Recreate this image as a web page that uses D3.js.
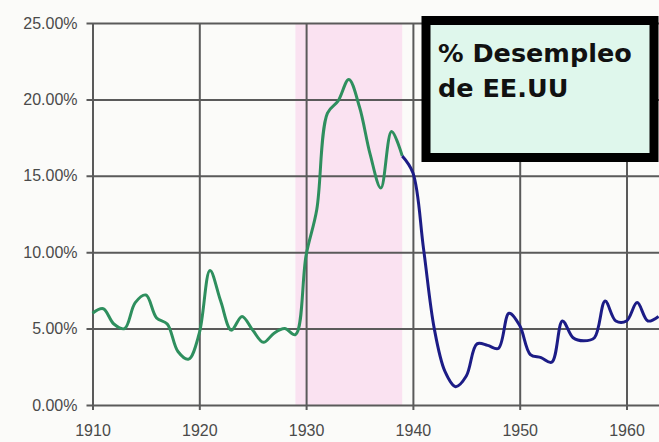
<!DOCTYPE html>
<html>
<head>
<meta charset="utf-8">
<script src="https://cdn.jsdelivr.net/npm/d3@7"></script>
<style>
  body { margin: 0; background: #fbfbf9; }
  svg { display: block; }
</style>
</head>
<body>
<div id="canvas"></div>
<script>
"use strict"

/* years and unemployment (%) */
let greenYears = [1910, 1911, 1912, 1913, 1914, 1915, 1916, 1917, 1918, 1919,
                  1920, 1921, 1922, 1923, 1924, 1925, 1926, 1927, 1928, 1929,
                  1930, 1931, 1932, 1933, 1934, 1935, 1936, 1937, 1938, 1939];
let greenValues = [6.0, 6.3, 5.3, 5.0, 6.7, 7.2, 5.7, 5.3, 3.5, 3.0,
                   4.7, 8.8, 6.8, 4.9, 5.8, 4.9, 4.1, 4.7, 5.0, 4.6,
                   9.8, 12.8, 19.1, 19.9, 21.3, 19.5, 16.4, 14.2, 17.9, 16.3];

let blueYears = [1939, 1940, 1941, 1942, 1943, 1944, 1945, 1946, 1947, 1948,
                 1949, 1950, 1951, 1952, 1953, 1954, 1955, 1956, 1957, 1958,
                 1959, 1960, 1961, 1962, 1963];
let blueValues = [16.3, 15.2, 10.2, 5.0, 2.2, 1.2, 1.9, 4.0, 3.9, 3.7,
                  6.0, 5.2, 3.3, 3.1, 2.8, 5.5, 4.4, 4.2, 4.4, 6.8,
                  5.5, 5.5, 6.7, 5.5, 5.8];

let xTicks = [1910, 1920, 1930, 1940, 1950, 1960];
let yTicks = [0, 5, 10, 15, 20, 25];
let shadedYears = [1929, 1939];
let titleLines = ["% Desempleo", "de EE.UU"];

let width = 659, height = 442;
let plotLeft = 92.5, plotRight = 659, plotTop = 23, plotBottom = 405;

let drawing = d3.select("#canvas")
    .append("svg")
    .attr("width", width)
    .attr("height", height);

drawing.append("rect")
    .attr("width", width)
    .attr("height", height)
    .attr("fill", "#fbfbf9");

let x = d3.scaleLinear().domain([1910, 1960]).range([plotLeft, 626.5]);
let y = d3.scaleLinear().domain([0, 25]).range([plotBottom, plotTop]);

// depression band
drawing.append("rect")
    .attr("x", x(shadedYears[0]))
    .attr("y", plotTop)
    .attr("width", x(shadedYears[1]) - x(shadedYears[0]))
    .attr("height", plotBottom - plotTop)
    .attr("fill", "#fae2f1");

// y axis with gridlines
let yAxis = drawing.append("g")
    .attr("transform", "translate(" + plotLeft + ",0)")
    .call(d3.axisLeft(y)
        .tickValues(yTicks)
        .tickSize(-(plotRight - plotLeft))
        .tickPadding(15)
        .tickFormat(d => d.toFixed(2) + "%"));
yAxis.select(".domain").remove();
yAxis.selectAll(".tick line")
    .attr("x1", -6)
    .attr("stroke", "#5a5a5a")
    .attr("stroke-width", 2);
yAxis.selectAll(".tick text")
    .attr("fill", "#4a4a4a")
    .style("font-family", "Liberation Sans, Arial, sans-serif")
    .style("font-size", "16px");

// x axis with gridlines
let xAxis = drawing.append("g")
    .attr("transform", "translate(0," + plotBottom + ")")
    .call(d3.axisBottom(x)
        .tickValues(xTicks)
        .tickSize(-(plotBottom - plotTop))
        .tickPadding(20)
        .tickFormat(d3.format("d")));
xAxis.select(".domain").remove();
xAxis.selectAll(".tick line")
    .attr("y1", 5)
    .attr("stroke", "#5a5a5a")
    .attr("stroke-width", 2);
xAxis.selectAll(".tick text")
    .attr("fill", "#4a4a4a")
    .style("font-family", "Liberation Sans, Arial, sans-serif")
    .style("font-size", "16px");

let line = d3.line()
    .x(d => x(d[0]))
    .y(d => y(d[1]))
    .curve(d3.curveCatmullRom.alpha(0.5));

let greenLine = drawing.append("path")
    .datum(d3.zip(greenYears, greenValues))
    .attr("d", line)
    .attr("fill", "none")
    .attr("stroke", "#2e8f5e")
    .attr("stroke-width", 3);

let blueLine = drawing.append("path")
    .datum(d3.zip(blueYears, blueValues))
    .attr("d", line)
    .attr("fill", "none")
    .attr("stroke", "#1c1c86")
    .attr("stroke-width", 3);

// title box
let titleBox = drawing.append("rect")
    .attr("x", 426)
    .attr("y", 20.5)
    .attr("width", 228)
    .attr("height", 137)
    .attr("fill", "#dff7ec")
    .attr("stroke", "#000")
    .attr("stroke-width", 9);

drawing.selectAll(".title")
    .data(titleLines)
    .join("text")
    .attr("class", "title")
    .attr("x", 438)
    .attr("y", (d, i) => 62 + i * 35)
    .attr("fill", "#111")
    .style("font-family", "DejaVu Sans, Verdana, sans-serif")
    .style("font-weight", "bold")
    .style("font-size", "25.5px")
    .text(d => d);
</script>
</body>
</html>
